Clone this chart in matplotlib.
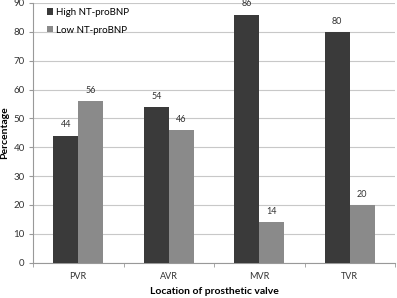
import numpy as np
import matplotlib
matplotlib.use("Agg")
import matplotlib.pyplot as plt

plt.rcParams['font.family'] = ['Lato', 'DejaVu Sans']

categories = ['PVR', 'AVR', 'MVR', 'TVR']
high_bnp = [44, 54, 86, 80]
low_bnp = [56, 46, 14, 20]
series_names = ['High NT-proBNP', 'Low NT-proBNP']

fig = plt.figure(figsize=(3.97, 2.98), dpi=100)
ax = fig.add_axes([33 / 397, 1 - 262.7 / 298, 362 / 397, 259.7 / 298])

x = np.arange(len(categories))
w = 0.276
b1 = ax.bar(x - w / 2, high_bnp, w, color='#3a3a3a', label=series_names[0], zorder=3)
b2 = ax.bar(x + w / 2, low_bnp, w, color='#8a8a8a', label=series_names[1], zorder=3)

for bars, vals in ((b1, high_bnp), (b2, low_bnp)):
    for r, v in zip(bars, vals):
        ax.text(r.get_x() + r.get_width() / 2, v + 2.2, str(v), ha='center', va='bottom',
                fontsize=6.5, color='#333333')

ax.set_xlim(-0.5, 3.5)
ax.set_ylim(0, 90)
ax.set_yticks(range(0, 91, 10))
ax.yaxis.grid(True, color='#c8c8c8', linewidth=0.8, zorder=0)
ax.set_xticks(x)
ax.set_xticklabels(categories)
ax.set_xticks(np.arange(-0.5, 4, 1), minor=True)
ax.tick_params(axis='x', which='major', length=0, pad=7, labelsize=6.5, colors='#333333')
ax.tick_params(axis='x', which='minor', length=3, color='#999999')
ax.tick_params(axis='y', length=3, color='#999999', labelsize=7, labelcolor='#333333', pad=3)

for s in ('top', 'right'):
    ax.spines[s].set_visible(False)
for s in ('left', 'bottom'):
    ax.spines[s].set_color('#999999')
    ax.spines[s].set_linewidth(0.8)

ax.set_ylabel('Percentage', fontsize=7.5, fontweight='bold', labelpad=3)
ax.set_xlabel('Location of prosthetic valve', fontsize=7.5, fontweight='bold', labelpad=4)

ax.legend(loc='upper left', bbox_to_anchor=(0.015, 1.015), frameon=False, fontsize=7,
          handlelength=0.6, handleheight=0.6, handletextpad=0.3, labelspacing=0.9)

fig.savefig('out.png', dpi=100)
